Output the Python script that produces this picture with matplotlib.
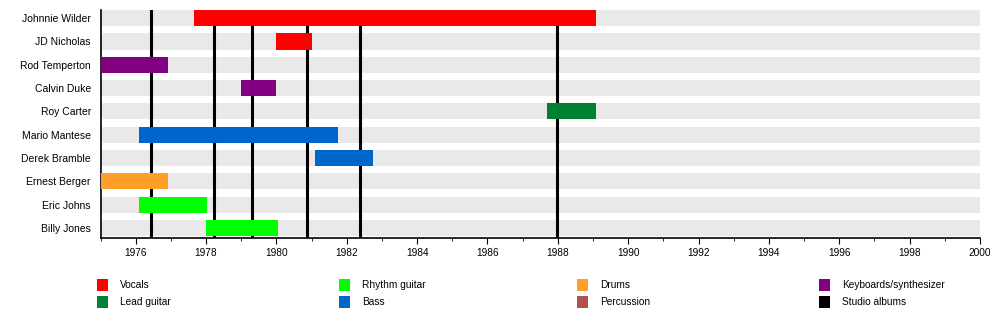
import matplotlib.pyplot as plt
from matplotlib.patches import Rectangle
from matplotlib.ticker import MultipleLocator

plt.rcParams['font.family'] = ['Liberation Sans', 'DejaVu Sans']

# band members, top to bottom
members = ["Johnnie Wilder", "JD Nicholas", "Rod Temperton", "Calvin Duke", "Roy Carter",
           "Mario Mantese", "Derek Bramble", "Ernest Berger", "Eric Johns", "Billy Jones"]
starts = [1977.66, 1980.0, 1975.0, 1979.0, 1987.7, 1976.1, 1981.1, 1975.0, 1976.1, 1978.0]
ends = [1989.08, 1981.0, 1976.92, 1980.0, 1989.08, 1981.75, 1982.75, 1976.92, 1978.03, 1980.05]
roles = ["Vocals", "Vocals", "Keyboards/synthesizer", "Keyboards/synthesizer", "Lead guitar",
         "Bass", "Bass", "Drums", "Rhythm guitar", "Rhythm guitar"]

# studio album release dates
albums = [1976.44, 1978.23, 1979.31, 1980.87, 1982.38, 1987.97]

colors = {
    "Vocals": "#ff0000",
    "Lead guitar": "#008033",
    "Rhythm guitar": "#00ff00",
    "Bass": "#0066cc",
    "Drums": "#ff9f2a",
    "Percussion": "#b4504c",
    "Keyboards/synthesizer": "#800080",
    "Studio albums": "#000000",
}
legend_order = ["Vocals", "Lead guitar", "Rhythm guitar", "Bass",
                "Drums", "Percussion", "Keyboards/synthesizer", "Studio albums"]

x0, x1 = 1975, 2000
W, H = 1000, 335

fig = plt.figure(figsize=(W / 100, H / 100), dpi=100)
ax = fig.add_axes([0.1005, 1 - 238 / H, 0.8795, 228 / H])

rows = list(range(len(members)))
bar_h = 0.69

# grey background band for each row
ax.barh(rows, [x1 - x0] * len(rows), left=x0, height=bar_h, color="#e9e9e9", zorder=1)

for x in albums:
    ax.axvline(x, color="black", lw=2.2, zorder=2)

ax.barh(rows, [e - s for s, e in zip(starts, ends)], left=starts, height=bar_h,
        color=[colors[r] for r in roles], zorder=3)

ax.set_xlim(x0, x1)
ax.set_ylim(9.43, -0.35)
ax.set_yticks(rows)
ax.set_yticklabels(members, fontsize=7.5)
ax.tick_params(axis="y", length=0, pad=7)
ax.xaxis.set_major_locator(MultipleLocator(2))
ax.xaxis.set_minor_locator(MultipleLocator(1))
ax.set_xticks(range(1976, 2001, 2))
ax.tick_params(axis="x", which="major", length=4, labelsize=7.3, pad=3)
ax.tick_params(axis="x", which="minor", length=2)
for side in ["top", "right"]:
    ax.spines[side].set_visible(False)
ax.spines["left"].set_linewidth(1.2)
ax.spines["bottom"].set_linewidth(1.2)

# legend: four columns of two entries
col_x = [97, 339, 577, 819]
row_y = [279, 296]
for i, name in enumerate(legend_order):
    px = col_x[i // 2]
    py = row_y[i % 2]
    fig.add_artist(Rectangle((px / W, 1 - (py + 12) / H), 11 / W, 12 / H,
                             transform=fig.transFigure, facecolor=colors[name],
                             edgecolor="none"))
    fig.text((px + 23) / W, 1 - (py + 6) / H, name, fontsize=7.3, va="center", ha="left")

fig.savefig("out.png", dpi=100)
